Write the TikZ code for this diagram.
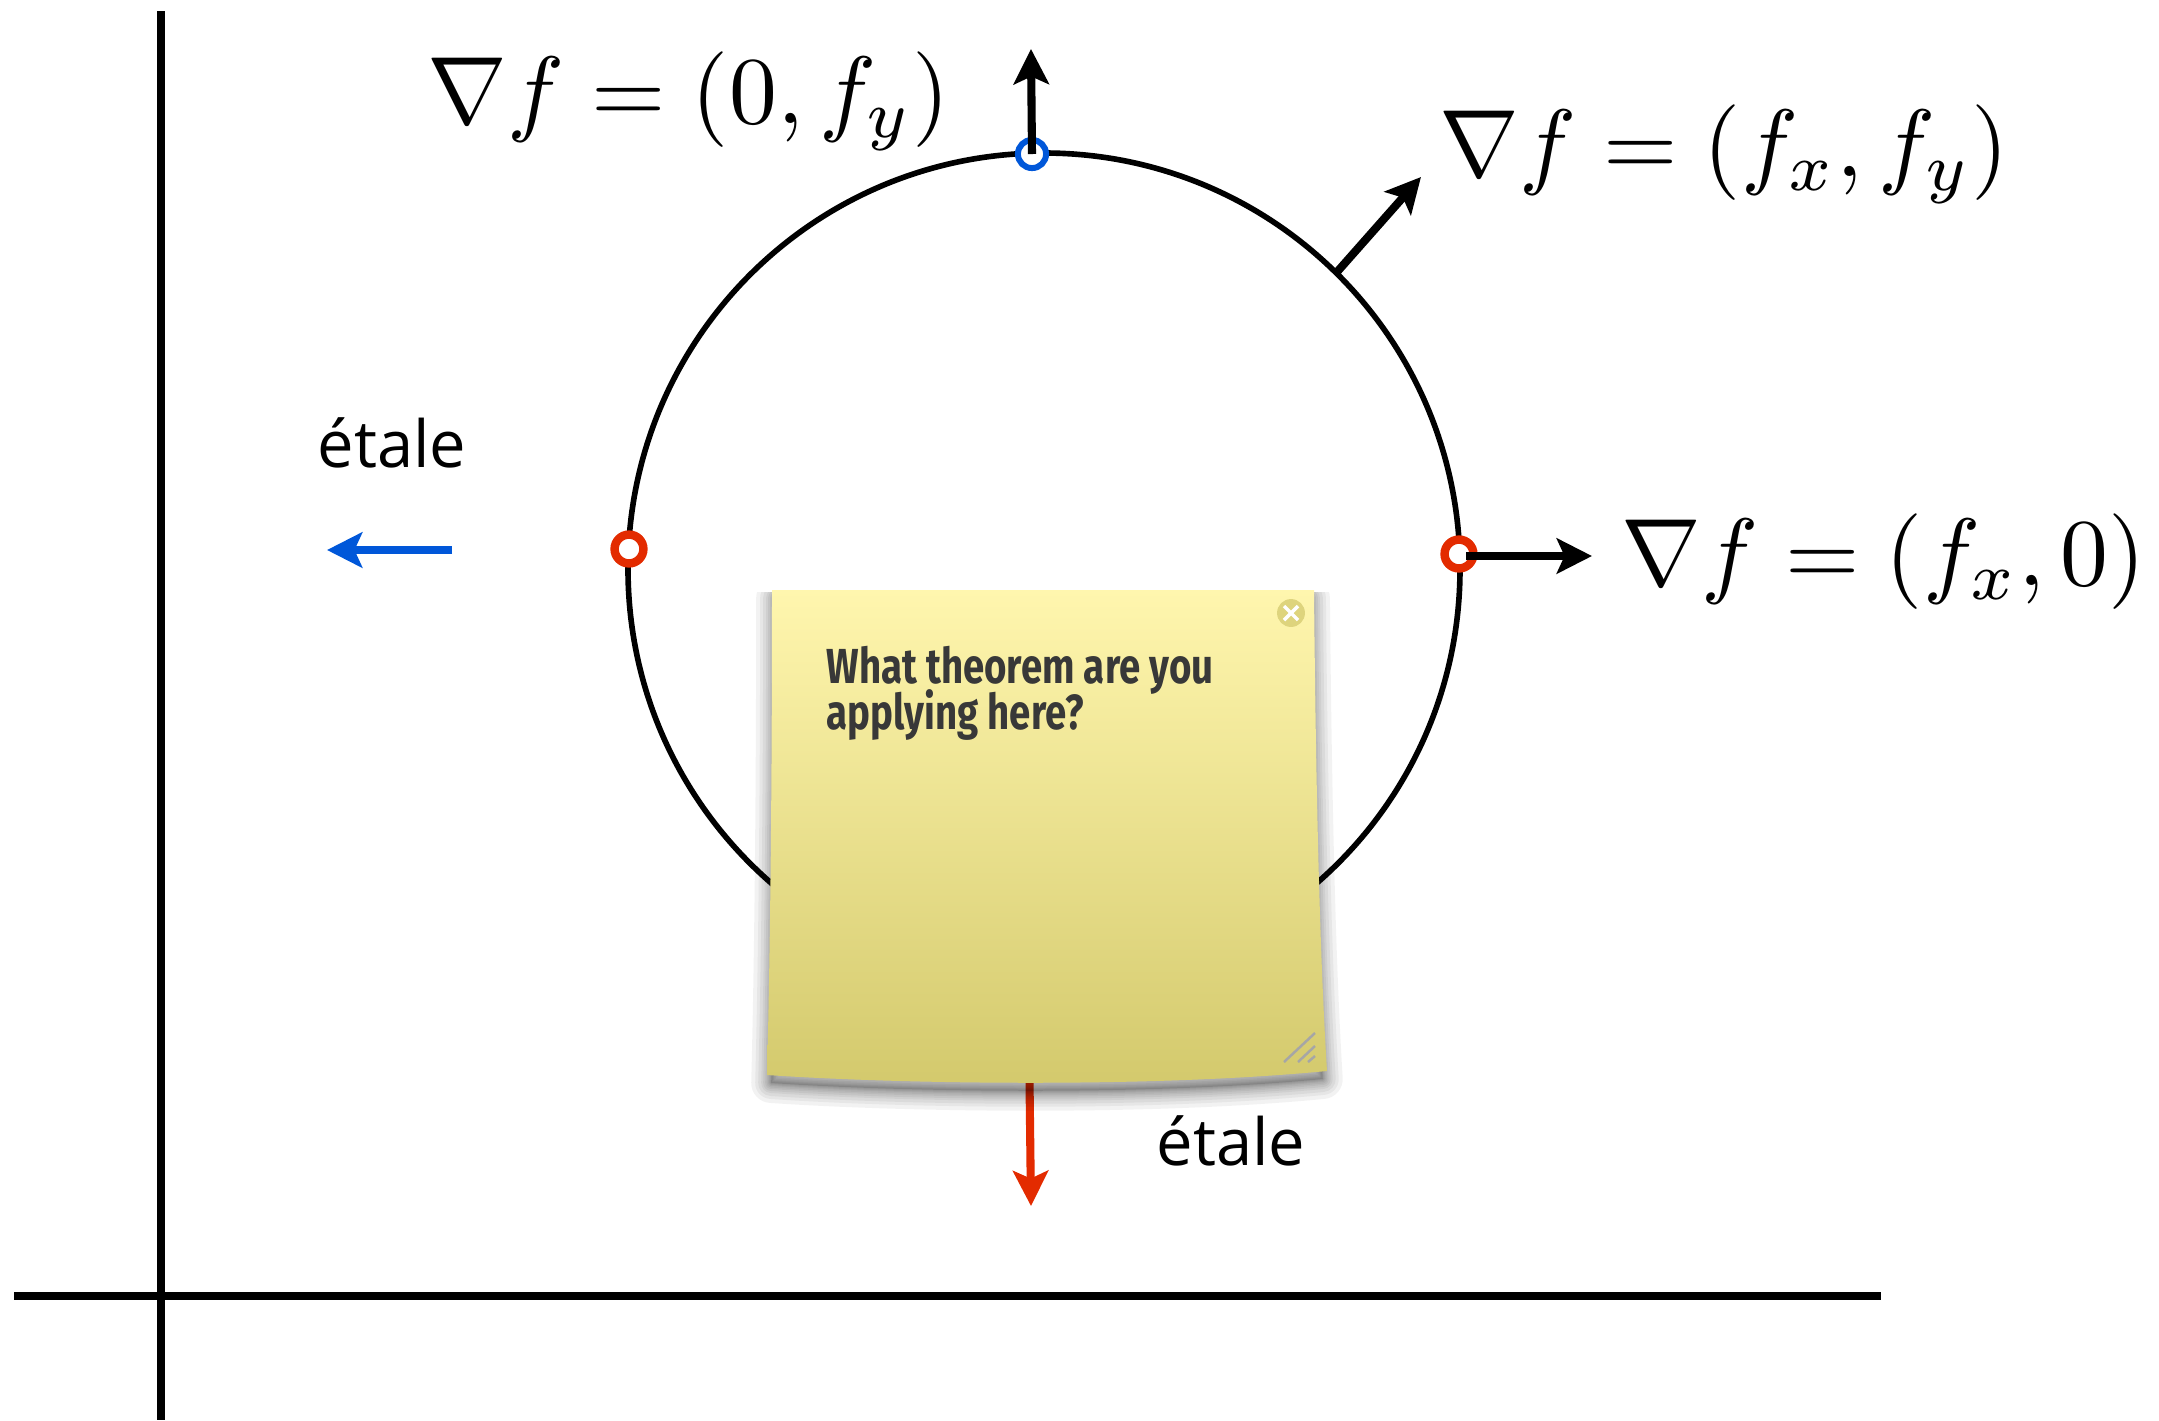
\documentclass[tikz,border=0pt]{standalone}
\usepackage[no-math]{fontspec}
\usepackage{graphicx}
\usepackage{xcolor}
\usepackage{tikz}
\usetikzlibrary{arrows.meta}
\newfontfamily\etalefont{Open Sans}
\newfontfamily\notefont[FakeStretch=0.78]{Fira Sans}
\definecolor{critred}{HTML}{E32B00}
\definecolor{critblue}{HTML}{0057D9}
\definecolor{notetop}{HTML}{FFF6AE}
\definecolor{notebot}{HTML}{D3C96C}
\newcommand{\notepath}{(772,590) -- (1314,590) .. controls (1316,800) and (1320,960) .. (1327,1071) .. controls (1150,1088) and (900,1084) .. (767,1075) .. controls (770,960) and (772,800) .. (772,590) -- cycle}
\newcommand{\gradtext}[1]{\scalebox{2.72}{$#1$}}

\begin{document}
\begin{tikzpicture}[
      x=0.01cm,y=-0.01cm,
      axis/.style={line width=2.3pt},
      curve/.style={line width=1.6pt},
      arrow/.style={-{Stealth[length=10pt,width=10pt,inset=2.2pt]},line width=2.3pt},
      crit/.style={circle,draw,fill=white,inner sep=0pt,minimum size=8.2pt,line width=2.4pt},
      grad/.style={inner sep=0pt,anchor=base west},
      etale/.style={font=\etalefont\fontsize{18.5}{22}\selectfont,inner sep=0pt,anchor=base west},
      grip/.style={draw=gray!70,line width=0.7pt}
    ]
      \useasboundingbox (0,0) rectangle (2159,1420);

      % axes
      \coordinate (ytop) at (161,11);
      \coordinate (ybot) at (161,1420);
      \coordinate (xl) at (14,1296);
      \coordinate (xr) at (1881,1296);
      \draw[axis] (ytop) -- (ybot);
      \draw[axis] (xl) -- (xr);

      \draw[curve] (1044,569) circle (416);

      \node[crit,draw=critred] (pl) at (629,549) {};
      \node[crit,draw=critred] (pr) at (1459,554) {};
      \node[crit,draw=critblue,minimum size=8pt,line width=1.7pt] (pt) at (1032,154) {};

      \coordinate (tipn) at (1031,49);
      \coordinate (base) at (1337,272);
      \coordinate (tipd) at (1421,177);
      \coordinate (tipe) at (1592,556);
      \coordinate (bluer) at (452,550);
      \coordinate (bluel) at (327,550);
      \coordinate (redt) at (1029,1037);
      \coordinate (redb) at (1031,1206);

      \draw[arrow] (pt.center) -- (tipn);
      \draw[arrow] (base) -- (tipd);
      \draw[arrow] (pr.center) ++(7,2) -- (tipe);
      \draw[arrow,critblue] (bluer) -- (bluel);
      \draw[arrow,critred] (redt) -- (redb);

      \node[grad] (g1) at (427,123) {\gradtext{\nabla f = (0, f_y)}};
      \node[grad] (g2) at (1439,176) {\gradtext{\nabla f = (f_x, f_y)}};
      \node[grad] (g3) at (1621,585) {\gradtext{\nabla f = (f_x, 0)}};
      \node[etale] (e1) at (317,467) {étale};
      \node[etale] (e2) at (1156,1165) {étale};

      % sticky note
      \begin{scope}
      \clip (700,592) rectangle (1400,1140);
      \begin{scope}[shift={(1045,8)},xscale=0.985,shift={(-1045,0)}]
      \fill[black,opacity=0.12] \notepath;
      \foreach \w in {2,4,6,9,12,16,20,26,32,40}
        \draw[black,opacity=0.05,line width=\w*0.2835pt,line join=round] \notepath;
      \end{scope}
      \end{scope}
      \shade[top color=notetop,bottom color=notebot] \notepath;
      \node[circle,fill=notebot!75!notetop,inner sep=0pt,minimum size=28*0.2835pt] (close) at (1291,613) {};
      \draw[white,line width=1pt] (close.center) ++(-7,-7) -- ++(14,14);
      \draw[white,line width=1pt] (close.center) ++(7,-7) -- ++(-14,14);
      \draw[grip] (1284,1062) -- (1315,1033);
      \draw[grip] (1298,1062) -- (1315,1046);
      \draw[grip] (1308,1062) -- (1315,1056);
      \node[font=\notefont\bfseries\fontsize{14}{12.8}\selectfont,text=black!78,align=left,inner sep=0pt,anchor=north west] (q) at (826,645) {What theorem are you\\[-2.3pt]applying here?};
    \end{tikzpicture}
\end{document}
